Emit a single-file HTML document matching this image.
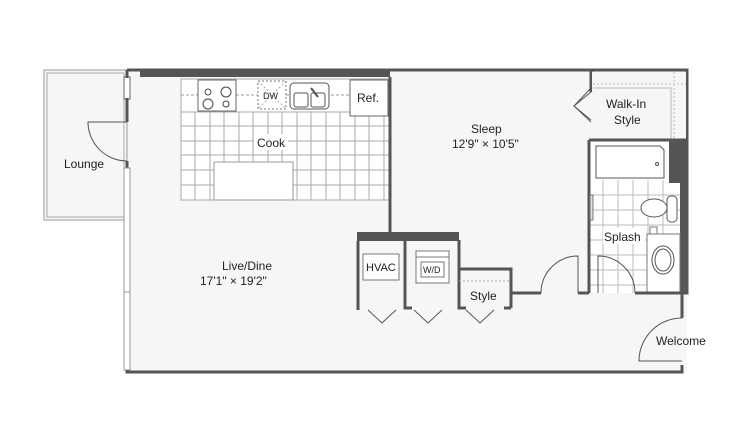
<!DOCTYPE html>
<html><head><style>
body{margin:0;background:#fff;}
svg{display:block;font-family:"Liberation Sans",sans-serif;}
text{fill:#222;font-size:12px;}
</style></head><body>
<svg width="753" height="424" viewBox="0 0 753 424">
<rect width="753" height="424" fill="#fff"/>
<!-- floor -->
<path d="M127 70 H687 V372 H127 Z" fill="#f6f6f6"/>
<!-- lounge -->
<rect x="44" y="70" width="83" height="150" fill="#f6f6f6" stroke="#999" stroke-width="1"/>
<rect x="47" y="73" width="77" height="144" fill="none" stroke="#aaa" stroke-width="1"/>
<!-- lounge door -->
<path d="M127 122 H88 A39 39 0 0 0 127 161" fill="none" stroke="#555" stroke-width="1"/>
<rect x="124" y="77" width="6" height="22" fill="#fff" stroke="#666"/>
<line x1="127" y1="70" x2="127" y2="78" stroke="#555" stroke-width="3"/>
<line x1="127" y1="98" x2="127" y2="122" stroke="#555" stroke-width="3"/>
<line x1="127" y1="161" x2="127" y2="168" stroke="#555" stroke-width="3"/>
<!-- left glazing -->
<rect x="124" y="168" width="6" height="202" fill="#fff" stroke="#999"/>
<line x1="124" y1="292" x2="130" y2="292" stroke="#999"/>
<!-- outer walls -->
<path d="M127 370 V372 H682 V365" fill="none" stroke="#555" stroke-width="3"/>
<path d="M127 70 H687 V293 H682 V318" fill="none" stroke="#555" stroke-width="3"/>
<rect x="140" y="69" width="250" height="8" fill="#555"/>
<!-- welcome door -->
<path d="M682 318 A43 43 0 0 0 639 361 H682" fill="none" stroke="#555" stroke-width="1"/>
<!-- kitchen counter -->
<rect x="181" y="79" width="209" height="33" fill="#fff" stroke="#aaa"/>
<line x1="181" y1="95" x2="390" y2="95" stroke="#999" stroke-dasharray="3,2"/>
<!-- tiles -->
<g stroke="#aaa" stroke-width="1">
<rect x="181" y="112" width="209" height="88" fill="#fff"/>
<path d="M195 112V200M210 112V200M224 112V200M239 112V200M253 112V200M268 112V200M282 112V200M297 112V200M311 112V200M326 112V200M340 112V200M355 112V200M369 112V200M384 112V200 M181 126H390M181 141H390M181 155H390M181 170H390M181 185H390"/>
</g>
<rect x="214" y="162" width="79" height="38" fill="#fff" stroke="#999"/>
<!-- stove -->
<rect x="198" y="80" width="38" height="31" fill="#fff" stroke="#666"/>
<circle cx="208" cy="92" r="3" fill="none" stroke="#444"/><circle cx="226" cy="92" r="5" fill="none" stroke="#444"/>
<circle cx="208" cy="104" r="5" fill="none" stroke="#444"/><circle cx="226" cy="104" r="3" fill="none" stroke="#444"/>
<!-- DW -->
<rect x="258" y="81" width="28" height="28" fill="#fff" stroke="#777" stroke-dasharray="2,2"/>
<path d="M258 81L286 109M286 81L258 109" stroke="#aaa" stroke-dasharray="2,2"/>
<text x="263" y="99" style="font-size:9px">DW</text>
<!-- sink -->
<rect x="290" y="83" width="39" height="26" rx="4" fill="#fff" stroke="#555"/>
<rect x="294" y="93" width="14" height="14" rx="2" fill="none" stroke="#555"/>
<rect x="311" y="93" width="14" height="14" rx="2" fill="none" stroke="#555"/>
<line x1="311" y1="88" x2="318" y2="97" stroke="#555" stroke-width="2"/>
<!-- ref -->
<rect x="350" y="80" width="38" height="36" fill="#fff" stroke="#666"/>
<text x="357" y="102">Ref.</text>
<!-- sleep wall -->
<line x1="390" y1="77" x2="390" y2="233" stroke="#555" stroke-width="3"/>
<!-- closets -->
<rect x="357" y="232" width="102" height="9" fill="#555"/>
<path d="M358 241V310M405 241V308H412M459 241V269H511V293M511 308V293H541" fill="none" stroke="#555" stroke-width="3"/>
<path d="M459 240V308H466M504 308H511" fill="none" stroke="#555" stroke-width="3"/>
<line x1="459" y1="281" x2="511" y2="281" stroke="#aaa" stroke-dasharray="2,2"/>
<path d="M368 310L382 323L396 310M414 310L428 323L442 310M466 310L480 323L494 310" fill="none" stroke="#555" stroke-width="1"/>
<rect x="363" y="254" width="36" height="26" fill="#fff" stroke="#777"/>
<text x="366" y="271" style="font-size:11px">HVAC</text>
<rect x="416" y="251" width="33" height="32" fill="#fff" stroke="#777"/>
<line x1="416" y1="257" x2="449" y2="257" stroke="#777"/>
<rect x="421" y="262" width="23" height="15" fill="none" stroke="#777"/>
<text x="423" y="273" style="font-size:9px">W/D</text>
<text x="470" y="300">Style</text>
<!-- sleep door -->
<path d="M541 293 A37 37 0 0 1 578 256 V293" fill="none" stroke="#555" stroke-width="1"/>
<line x1="578" y1="293" x2="589" y2="293" stroke="#555" stroke-width="3"/>
<!-- walk-in -->
<line x1="591" y1="70" x2="591" y2="92" stroke="#555" stroke-width="3"/>
<path d="M591 92L574 106L591 120" fill="none" stroke="#555" stroke-width="1"/>
<line x1="591" y1="120" x2="591" y2="140" stroke="#555" stroke-width="0"/>
<rect x="592" y="72" width="94" height="68" fill="#f6f6f6"/>
<path d="M593 88H671V140" fill="none" stroke="#bbb"/>
<path d="M593 84H686M674 72V140" fill="none" stroke="#bbb" stroke-dasharray="2,2"/>
<path d="M591 88L574 106L591 122" fill="none" stroke="#555" stroke-width="1"/>
<line x1="591" y1="70" x2="591" y2="88" stroke="#555" stroke-width="2"/>
<text x="606" y="108">Walk-In</text>
<text x="614" y="124">Style</text>
<!-- bath -->
<rect x="589" y="140" width="98" height="153" fill="#fff"/>
<g stroke="#bbb"><path d="M603 180V293M618 180V293M633 180V293M648 180V293M663 180V293M589 195H680M589 210H680M589 225H680M589 240H680M589 255H680M589 270H680M589 285H680"/></g>
<line x1="589" y1="140" x2="687" y2="140" stroke="#555" stroke-width="3"/>
<line x1="589" y1="140" x2="589" y2="293" stroke="#555" stroke-width="3"/>
<rect x="669" y="140" width="18" height="43" fill="#555"/>
<rect x="680" y="183" width="7" height="110" fill="#555"/>
<path d="M596 146H660L664 150V178H596Z" fill="#fff" stroke="#555"/>
<circle cx="657" cy="164" r="1.5" fill="none" stroke="#555"/>
<rect x="590" y="195" width="3" height="25" fill="#ddd" stroke="#777"/>
<ellipse cx="654" cy="208" rx="13" ry="9" fill="#fff" stroke="#555"/>
<rect x="667" y="196" width="10" height="26" rx="4" fill="#fff" stroke="#555"/>
<rect x="650" y="227" width="7" height="7" fill="#fff" stroke="#777"/>
<rect x="647" y="234" width="33" height="59" fill="#fff" stroke="#777"/>
<ellipse cx="663" cy="260" rx="11" ry="14" fill="#fff" stroke="#555"/>
<ellipse cx="663" cy="260" rx="8" ry="11" fill="none" stroke="#555"/>
<path d="M598 293V256 A37 37 0 0 1 635 293" fill="none" stroke="#555" stroke-width="1"/>
<line x1="635" y1="293" x2="687" y2="293" stroke="#555" stroke-width="3"/>
<rect x="603" y="228" width="42" height="16" fill="#fff"/>
<text x="604" y="241">Splash</text>
<!-- labels -->
<rect x="254" y="134" width="34" height="16" fill="#fff"/>
<text x="257" y="147">Cook</text>
<text x="64" y="168">Lounge</text>
<text x="471" y="133">Sleep</text>
<text x="452" y="148">12'9" × 10'5"</text>
<text x="222" y="270">Live/Dine</text>
<text x="200" y="285">17'1" × 19'2"</text>
<text x="656" y="345">Welcome</text>
</svg>
</body></html>
